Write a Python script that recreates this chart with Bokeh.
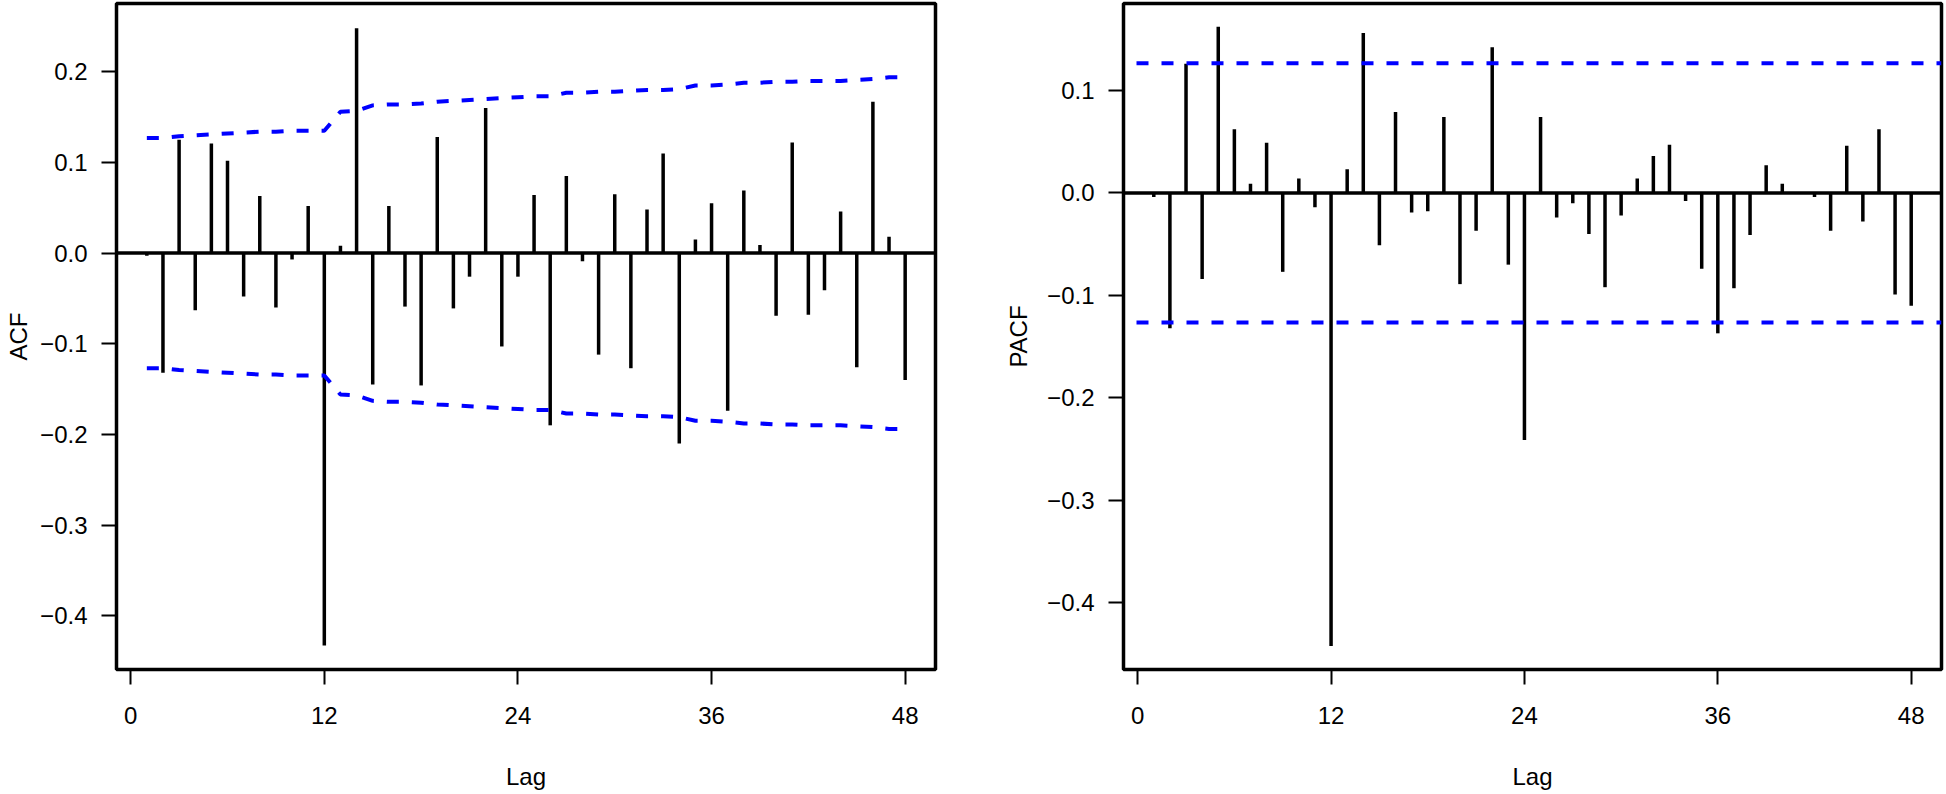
from bokeh.plotting import figure
from bokeh.layouts import row
from bokeh.models import Range1d, Span, FixedTicker, CustomJSTickFormatter, ColumnDataSource
from bokeh.embed import file_html
from bokeh.resources import INLINE

# ---------------- data ----------------
lags = list(range(1, 49))

acf_values = [
    -0.003, -0.132, 0.125, -0.063, 0.121, 0.102, -0.048, 0.063, -0.060, -0.007,
    0.052, -0.433, 0.008, 0.248, -0.145, 0.052, -0.059, -0.146, 0.128, -0.061,
    -0.026, 0.160, -0.103, -0.026, 0.064, -0.190, 0.085, -0.009, -0.112, 0.065,
    -0.127, 0.048, 0.110, -0.210, 0.015, 0.055, -0.174, 0.069, 0.009, -0.069,
    0.122, -0.068, -0.041, 0.046, -0.126, 0.167, 0.018, -0.140,
]

acf_limit_upper = [
    0.127, 0.127, 0.129, 0.130, 0.131, 0.132, 0.133, 0.134, 0.134, 0.135,
    0.135, 0.135, 0.156, 0.157, 0.163, 0.164, 0.164, 0.165, 0.167, 0.168,
    0.169, 0.170, 0.171, 0.172, 0.173, 0.173, 0.177, 0.177, 0.178, 0.178,
    0.179, 0.180, 0.180, 0.181, 0.185, 0.185, 0.186, 0.188, 0.188, 0.189,
    0.189, 0.190, 0.190, 0.190, 0.191, 0.192, 0.194, 0.194,
]

pacf_values = [
    -0.004, -0.132, 0.126, -0.084, 0.162, 0.062, 0.009, 0.049, -0.077, 0.014,
    -0.014, -0.442, 0.023, 0.156, -0.051, 0.079, -0.019, -0.018, 0.074, -0.089,
    -0.037, 0.142, -0.070, -0.241, 0.074, -0.024, -0.010, -0.040, -0.092, -0.022,
    0.014, 0.036, 0.047, -0.008, -0.074, -0.137, -0.093, -0.041, 0.027, 0.009,
    0.000, -0.004, -0.037, 0.046, -0.028, 0.062, -0.099, -0.110,
]

pacf_limit = 0.1265

lag_ticks = [0, 12, 24, 36, 48]
acf_ticks = [-0.4, -0.3, -0.2, -0.1, 0.0, 0.1, 0.2]
pacf_ticks = [-0.4, -0.3, -0.2, -0.1, 0.0, 0.1]

FONT = "Liberation Sans"
BLUE = "#0000FF"


def style(p, yticks, ylabel, label_standoff):
    p.xgrid.visible = False
    p.ygrid.visible = False
    p.outline_line_color = "black"
    p.outline_line_width = 3.5
    p.background_fill_color = "white"
    p.border_fill_color = "white"
    p.xaxis.ticker = FixedTicker(ticks=lag_ticks)
    p.yaxis.ticker = FixedTicker(ticks=yticks)
    p.yaxis.formatter = CustomJSTickFormatter(
        code="return tick.toFixed(1).replace('-', '\\u2212');")
    for ax in (p.xaxis[0], p.yaxis[0]):
        ax.axis_line_color = None
        ax.major_tick_in = 0
        ax.major_tick_out = 15
        ax.major_tick_line_width = 2
        ax.major_tick_line_color = "black"
        ax.minor_tick_line_color = None
        ax.major_label_text_font = FONT
        ax.major_label_text_font_size = "24px"
        ax.major_label_text_color = "black"
        ax.axis_label_text_font = FONT
        ax.axis_label_text_font_size = "24px"
        ax.axis_label_text_font_style = "normal"
        ax.axis_label_text_color = "black"
    p.xaxis.axis_label = "Lag"
    p.yaxis.axis_label = ylabel
    p.xaxis.major_label_standoff = 22
    p.xaxis.axis_label_standoff = 36
    p.yaxis.major_label_standoff = 14
    p.yaxis.axis_label_standoff = label_standoff
    p.yaxis.major_label_orientation = "horizontal"
    p.add_layout(Span(location=0, dimension="width", line_color="black", line_width=3.5))


# ---------------- ACF ----------------
acf_src = ColumnDataSource(dict(
    lag=lags, zero=[0] * len(lags), acf=acf_values,
    up=acf_limit_upper, lo=[-v for v in acf_limit_upper],
))

p1 = figure(width=1000, height=792, output_backend="svg", toolbar_location=None,
            x_range=Range1d(-0.88, 49.88), y_range=Range1d(-0.4594, 0.2754),
            min_border_left=116, min_border_right=65, min_border_top=3, min_border_bottom=120)
style(p1, acf_ticks, "ACF", 5)
p1.segment(x0="lag", y0="zero", x1="lag", y1="acf", source=acf_src,
           line_color="black", line_width=3.5)
p1.line(x="lag", y="up", source=acf_src, line_color=BLUE, line_width=4, line_dash="12 13")
p1.line(x="lag", y="lo", source=acf_src, line_color=BLUE, line_width=4, line_dash="12 13")

# ---------------- PACF ----------------
pacf_src = ColumnDataSource(dict(lag=lags, zero=[0] * len(lags), pacf=pacf_values))

p2 = figure(width=944, height=792, output_backend="svg", toolbar_location=None,
            x_range=Range1d(-0.88, 49.88), y_range=Range1d(-0.465, 0.1848),
            min_border_left=123, min_border_right=3, min_border_top=3, min_border_bottom=120)
style(p2, pacf_ticks, "PACF", 12)
p2.segment(x0="lag", y0="zero", x1="lag", y1="pacf", source=pacf_src,
           line_color="black", line_width=3.5)
for loc in (pacf_limit, -pacf_limit):
    p2.add_layout(Span(location=loc, dimension="width", line_color=BLUE, line_width=4,
                       line_dash="12 13", line_dash_offset=12))

layout = row(p1, p2)
open("out.html", "w").write(file_html(layout, INLINE))
